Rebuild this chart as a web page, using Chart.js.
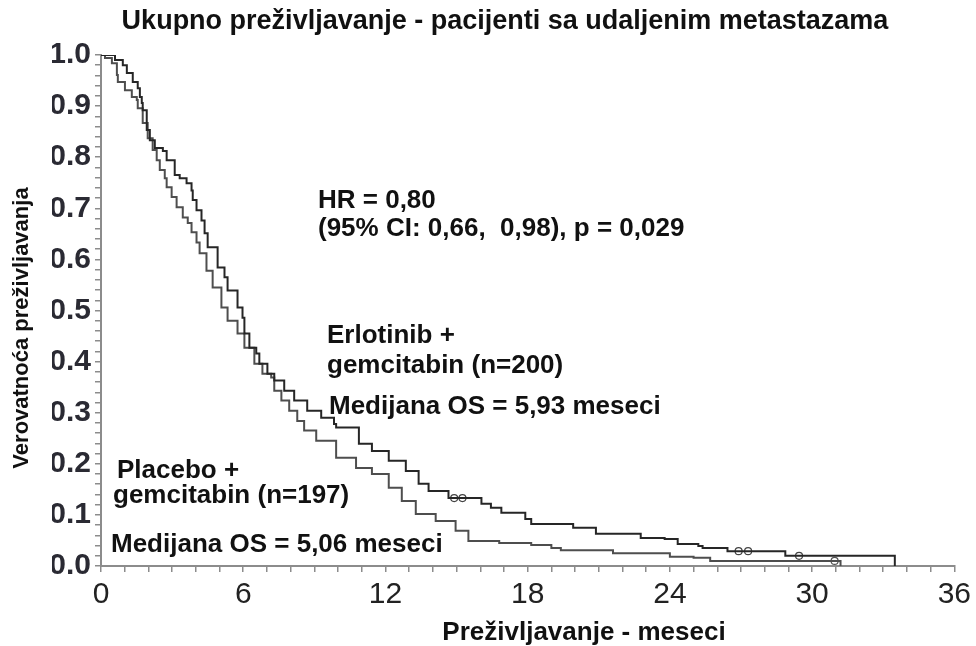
<!DOCTYPE html>
<html>
<head>
<meta charset="utf-8">
<script src="https://cdn.jsdelivr.net/npm/chart.js@4.4.1/dist/chart.umd.min.js"></script>
<style>
html,body{margin:0;padding:0;background:#fff;}
#wrap{width:976px;height:646px;position:relative;}
</style>
</head>
<body>
<div id="wrap"><canvas id="c" width="976" height="646"></canvas></div>
<script>
// ---------- data ----------
const chartTitle = 'Ukupno preživljavanje - pacijenti sa udaljenim metastazama';
const xAxisTitle = 'Preživljavanje - meseci';
const yAxisTitle = 'Verovatnoća preživljavanja';
const xTickLabels = ['0', '6', '12', '18', '24', '30', '36'];
const yTickLabels = ['0.0', '0.1', '0.2', '0.3', '0.4', '0.5', '0.6', '0.7', '0.8', '0.9', '1.0'];

const seriesNames = ['Erlotinib + gemcitabin (n=200)', 'Placebo + gemcitabin (n=197)'];

const erlotinibMonths = [0, 0.59, 0.92, 1.09, 1.34, 1.55, 1.64, 1.72, 1.76, 1.93, 2.06, 2.27, 2.61, 2.77,
  3.11, 3.32, 3.61, 3.82, 3.87, 4.03, 4.24, 4.37, 4.50, 4.92, 5.21, 5.34, 5.76, 5.97, 6.05, 6.26,
  6.55, 6.68, 7.02, 7.31, 7.73, 8.15, 8.70, 9.29, 9.83, 9.92, 10.88, 11.43, 12.14, 12.86, 13.40,
  13.82, 14.66, 16.05, 16.45, 16.89, 17.9, 18.15, 19.92, 20.88, 22.77, 23.78, 24.33, 25.2, 25.38,
  26.43, 28.87, 33.49];
const erlotinibSurvival = [1.0, 0.990, 0.980, 0.965, 0.947, 0.935, 0.918, 0.906, 0.892, 0.853, 0.833, 0.818, 0.812, 0.794,
  0.765, 0.759, 0.749, 0.735, 0.716, 0.696, 0.676, 0.651, 0.624, 0.584, 0.565, 0.539, 0.506, 0.486, 0.455, 0.427,
  0.416, 0.396, 0.376, 0.363, 0.343, 0.324, 0.304, 0.290, 0.278, 0.271, 0.239, 0.225, 0.206, 0.186, 0.161,
  0.147, 0.133, 0.122, 0.114, 0.104, 0.092, 0.082, 0.075, 0.063, 0.055, 0.053, 0.043, 0.039, 0.035,
  0.029, 0.020, 0.0];

const placeboMonths = [0, 0.17, 0.46, 0.67, 0.71, 1.01, 1.30, 1.51, 1.55, 1.76, 1.97, 2.18, 2.35, 2.48, 2.69,
  2.77, 2.98, 3.19, 3.45, 3.66, 3.82, 4.03, 4.16, 4.45, 4.71, 5.08, 5.34, 5.76, 6.05, 6.47, 6.81, 7.18,
  7.31, 7.61, 7.94, 8.28, 8.57, 9.08, 9.92, 10.76, 11.43, 12.14, 12.69, 13.28, 14.12, 14.96, 15.50,
  16.8, 18.15, 19.0, 19.4, 21.6, 24.0, 25.0, 25.7, 31.2];
const placeboSurvival = [1.0, 0.994, 0.984, 0.961, 0.947, 0.931, 0.918, 0.912, 0.896, 0.867, 0.837, 0.814, 0.794, 0.775, 0.759,
  0.741, 0.722, 0.702, 0.682, 0.671, 0.653, 0.633, 0.612, 0.578, 0.545, 0.506, 0.480, 0.455, 0.427, 0.396, 0.376, 0.369,
  0.343, 0.324, 0.304, 0.284, 0.265, 0.245, 0.212, 0.192, 0.180, 0.153, 0.127, 0.102, 0.088, 0.069, 0.049,
  0.045, 0.041, 0.035, 0.031, 0.025, 0.018, 0.016, 0.010, 0.0];

const erlotinibCensorMonths = [14.9, 15.25, 26.9, 27.3, 29.45];
const erlotinibCensorSurvival = [0.133, 0.133, 0.029, 0.029, 0.020];
const placeboCensorMonths = [30.95];
const placeboCensorSurvival = [0.010];

const annotationLines = [
  'HR = 0,80',
  '(95% CI: 0,66,  0,98), p = 0,029',
  'Erlotinib +',
  'gemcitabin (n=200)',
  'Medijana OS = 5,93 meseci',
  'Placebo +',
  'gemcitabin (n=197)',
  'Medijana OS = 5,06 meseci'
];

// ---------- build ----------
const toXY = (xs, ys) => xs.map((x, i) => ({ x: x, y: ys[i] }));
const FONT = '"Liberation Sans", Arial, sans-serif';

// positions of the free text (pixels)
const annotationPos = [
  [318, 208], [318, 236], [327, 343], [327, 373], [329, 414],
  [117, 478], [113, 503], [111, 552]
];

const textPlugin = {
  id: 'freeText',
  afterDraw(chart) {
    const ctx = chart.ctx;
    ctx.save();
    ctx.fillStyle = '#111';
    ctx.textAlign = 'left';
    ctx.textBaseline = 'alphabetic';
    ctx.font = 'bold 26px ' + FONT;
    annotationLines.forEach((t, i) => {
      ctx.fillText(t, annotationPos[i][0], annotationPos[i][1]);
    });
    // x axis title
    ctx.textAlign = 'center';
    ctx.fillText(xAxisTitle, 584, 640);
    // y axis title
    ctx.font = 'bold 22px ' + FONT;
    ctx.translate(22, 328);
    ctx.rotate(-Math.PI / 2);
    ctx.textBaseline = 'middle';
    ctx.fillText(yAxisTitle, 0, 0);
    ctx.restore();
  }
};

const axisGray = '#8c8c8c';

new Chart(document.getElementById('c'), {
  type: 'line',
  data: {
    datasets: [
      {
        label: seriesNames[0],
        data: toXY(erlotinibMonths, erlotinibSurvival),
        stepped: 'before',
        borderColor: '#262626',
        borderWidth: 2,
        pointRadius: 0,
        fill: false
      },
      {
        label: seriesNames[1],
        data: toXY(placeboMonths, placeboSurvival),
        stepped: 'before',
        borderColor: '#4e4e4e',
        borderWidth: 2,
        pointRadius: 0,
        fill: false
      },
      {
        label: 'censored-1',
        type: 'scatter',
        data: toXY(erlotinibCensorMonths, erlotinibCensorSurvival),
        showLine: false,
        pointStyle: 'circle',
        pointRadius: 3.5,
        pointBorderWidth: 1.2,
        pointBorderColor: '#444',
        pointBackgroundColor: 'rgba(255,255,255,0)'
      },
      {
        label: 'censored-2',
        type: 'scatter',
        data: toXY(placeboCensorMonths, placeboCensorSurvival),
        showLine: false,
        pointStyle: 'circle',
        pointRadius: 3.5,
        pointBorderWidth: 1.2,
        pointBorderColor: '#555',
        pointBackgroundColor: 'rgba(255,255,255,0)'
      }
    ]
  },
  options: {
    responsive: false,
    animation: false,
    devicePixelRatio: 1,
    layout: { padding: { left: 52, right: 18, top: 0, bottom: 0 } },
    plugins: {
      legend: { display: false },
      tooltip: { enabled: false },
      title: {
        display: true,
        text: chartTitle,
        color: '#111',
        font: { family: FONT, size: 27, weight: 'bold' },
        padding: { top: 5, bottom: 17.6 }
      }
    },
    scales: {
      x: {
        type: 'linear',
        min: 0,
        max: 36,
        afterFit: (s) => { s.height = 80; },
        ticks: {
          stepSize: 1,
          autoSkip: false,
          maxRotation: 0,
          padding: 5,
          color: '#222',
          font: { family: FONT, size: 30 },
          callback: (v) => (v % 6 === 0 ? xTickLabels[v / 6] : '')
        },
        grid: { display: true, drawOnChartArea: false, drawTicks: true, tickLength: 6, color: axisGray, lineWidth: 1.5 },
        border: { display: true, color: axisGray, width: 2 }
      },
      y: {
        type: 'linear',
        min: 0,
        max: 1,
        afterFit: (s) => { s.width = 49; },
        ticks: {
          stepSize: 0.02,
          autoSkip: false,
          padding: 4,
          color: '#2a2a33',
          font: { family: FONT, size: 30, weight: 'bold' },
          callback: (v) => {
            const i = Math.round(v * 10);
            return Math.abs(v * 10 - i) < 1e-6 ? yTickLabels[i] : '';
          }
        },
        grid: { display: true, drawOnChartArea: false, drawTicks: true, tickLength: 6, color: axisGray, lineWidth: 1.5 },
        border: { display: true, color: axisGray, width: 2 }
      }
    }
  },
  plugins: [textPlugin]
});
</script>
</body>
</html>
